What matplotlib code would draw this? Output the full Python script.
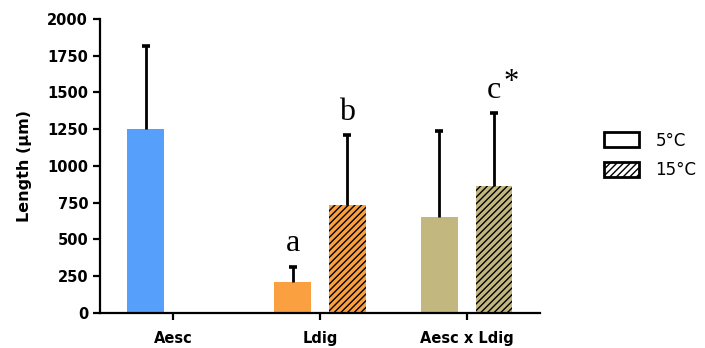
import numpy as np
import matplotlib.pyplot as plt
from matplotlib.patches import Patch

plt.rcParams['font.family'] = ['DejaVu Sans']
plt.rcParams['hatch.linewidth'] = 1.0

groups = ["Aesc", "Ldig", "Aesc x Ldig"]
temps = ["5°C", "15°C"]
mean_5 = [1255, 210, 650]
sd_5 = [560, 103, 590]
mean_15 = [0, 735, 865]
sd_15 = [0, 475, 495]
letters_5 = ["", "a", ""]
letters_15 = ["", "b", "c"]
colors = ["#56A0FB", "#FBA040", "#C2B77E"]

x = np.arange(len(groups))
w = 0.252
off = 0.187


def up_error(ax, xpos, m, s):
    # one-sided (upper) error bar with a short cap
    ax.vlines(xpos, m, m + s, color='black', lw=2, zorder=3)
    ax.plot([xpos], [m + s], marker='_', ms=6, mew=2.6, color='black', zorder=3)


fig = plt.figure(figsize=(7.05, 3.48), dpi=100)
ax = fig.add_axes([0.1418, 0.1006, 0.6240, 0.8448])

for i in range(len(groups)):
    ax.bar(x[i] - off, mean_5[i], w, color=colors[i], linewidth=0)
    up_error(ax, x[i] - off, mean_5[i], sd_5[i])
    if mean_15[i] > 0:
        ax.bar(x[i] + off, mean_15[i], w, color=colors[i], hatch='/////',
               edgecolor='black', linewidth=0)
        up_error(ax, x[i] + off, mean_15[i], sd_15[i])
    if letters_5[i]:
        ax.text(x[i] - off, mean_5[i] + sd_5[i] + 110, letters_5[i], ha='center',
                va='baseline', fontsize=23, family='Liberation Serif')
    if letters_15[i]:
        ax.text(x[i] + off, mean_15[i] + sd_15[i] + 100, letters_15[i], ha='center',
                va='baseline', fontsize=23, family='Liberation Serif')

# significance star next to the c
ax.text(x[2] + off + 0.12, mean_15[2] + sd_15[2] + 160, "*", ha='center',
        va='baseline', fontsize=22, family='Liberation Serif')

ax.set_xlim(-0.5, 2.5)
ax.set_ylim(0, 2000)
ax.set_yticks(np.arange(0, 2001, 250))
ax.set_xticks(x)
ax.set_xticklabels(groups, fontweight='bold', fontsize=10.5)
for lab in ax.get_yticklabels():
    lab.set_fontweight('bold')
    lab.set_fontsize(10.5)
ax.set_ylabel("Length (μm)", fontweight='bold', fontsize=11.5, labelpad=11)

for s in ['top', 'right']:
    ax.spines[s].set_visible(False)
for s in ['left', 'bottom']:
    ax.spines[s].set_linewidth(1.6)
ax.tick_params(axis='both', width=1.6, length=5, direction='out')
ax.tick_params(axis='x', pad=8)

handles = [Patch(facecolor='white', edgecolor='black', linewidth=2),
           Patch(facecolor='white', edgecolor='black', linewidth=2, hatch='/////')]
fig.legend(handles, temps, loc='upper left', bbox_to_anchor=(0.835, 0.665),
           frameon=False, fontsize=12, handlelength=2.1, handleheight=1.0,
           labelspacing=0.7, handletextpad=1.0)

fig.savefig("out.png", dpi=100)
